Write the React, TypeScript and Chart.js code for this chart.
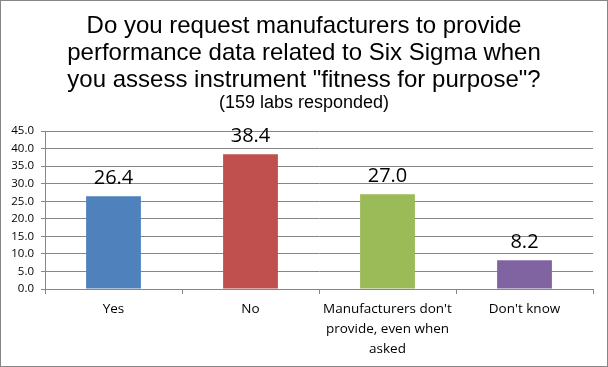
import React, { useEffect, useRef } from "react";
import { Chart, registerables } from "chart.js";

Chart.register(...registerables);

const titleLines = [
  "Do you request manufacturers to provide",
  "performance data related to Six Sigma when",
  'you assess instrument "fitness for purpose"?',
];
const subtitleText = "(159 labs responded)";
const categories: (string | string[])[] = [
  "Yes",
  "No",
  ["Manufacturers don't", "provide, even when", "asked"],
  "Don't know",
];
const values = [26.4, 38.4, 27.0, 8.2];
const barColors = ["#4F81BD", "#C0504D", "#9BBB59", "#8064A2"];
const yMin = 0;
const yMax = 45;
const yStep = 5;

const W = 608;
const H = 367;
const GRID = "#868686";

const decorPlugin = {
  id: "decor",
  beforeDraw(chart: any) {
    const ctx = chart.ctx;
    ctx.save();
    ctx.fillStyle = "#ffffff";
    ctx.fillRect(0, 0, W, H);
    ctx.restore();
  },
  afterDraw(chart: any) {
    const ctx = chart.ctx;
    ctx.save();
    ctx.fillStyle = "#000000";
    ctx.textAlign = "center";
    ctx.textBaseline = "alphabetic";
    ctx.font = "24px 'Liberation Sans', Arial, sans-serif";
    const baselines = [33, 60, 87];
    titleLines.forEach((t, i) => ctx.fillText(t, W / 2, baselines[i]));
    ctx.font = "18px 'Liberation Sans', Arial, sans-serif";
    ctx.fillText(subtitleText, W / 2, 108);
    ctx.strokeStyle = GRID;
    ctx.lineWidth = 1;
    ctx.strokeRect(0.5, 0.5, W - 1, H - 1);
    ctx.restore();
  },
  afterDatasetsDraw(chart: any) {
    const ctx = chart.ctx;
    const meta = chart.getDatasetMeta(0);
    ctx.save();
    ctx.fillStyle = "#000000";
    ctx.textAlign = "center";
    ctx.textBaseline = "alphabetic";
    ctx.font = "20px 'Open Sans', sans-serif";
    meta.data.forEach((el: any, i: number) => {
      ctx.fillText(values[i].toFixed(1), el.x, el.y - 12);
    });
    ctx.restore();
  },
};

export default function App() {
  const ref = useRef<HTMLCanvasElement | null>(null);
  useEffect(() => {
    document.body.style.margin = "0";
    if (!ref.current) return;
    const chart = new Chart(ref.current, {
      type: "bar",
      data: {
        labels: categories,
        datasets: [
          {
            data: values,
            backgroundColor: barColors,
            borderWidth: 0,
            barPercentage: 0.4,
            categoryPercentage: 1,
          },
        ],
      },
      options: {
        animation: false,
        responsive: false,
        devicePixelRatio: 1,
        layout: { padding: { top: 131, right: 15, left: 0, bottom: 0 } },
        plugins: {
          legend: { display: false },
          tooltip: { enabled: false },
          title: { display: false },
        },
        scales: {
          x: {
            offset: true,
            grid: {
              display: true,
              offset: true,
              drawOnChartArea: false,
              drawTicks: true,
              tickLength: 5,
              color: GRID,
            },
            border: { display: true, color: GRID },
            ticks: {
              color: "#000000",
              font: { family: "'Open Sans', sans-serif", size: 13.5, lineHeight: 1.48 },
              padding: 5,
              maxRotation: 0,
              autoSkip: false,
            },
            afterFit(scale: any) {
              scale.height = 78;
            },
          },
          y: {
            min: yMin,
            max: yMax,
            grid: {
              color: GRID,
              tickLength: 4,
            },
            border: { display: true, color: GRID },
            ticks: {
              stepSize: yStep,
              color: "#000000",
              font: { family: "'Open Sans', sans-serif", size: 11.5 },
              padding: 7,
              callback: (v: any) => Number(v).toFixed(1),
            },
            afterFit(scale: any) {
              scale.width = 45;
            },
          },
        },
      },
      plugins: [decorPlugin],
    });
    return () => chart.destroy();
  }, []);
  return <canvas ref={ref} width={W} height={H} style={{ display: "block", width: W, height: H }} />;
}
